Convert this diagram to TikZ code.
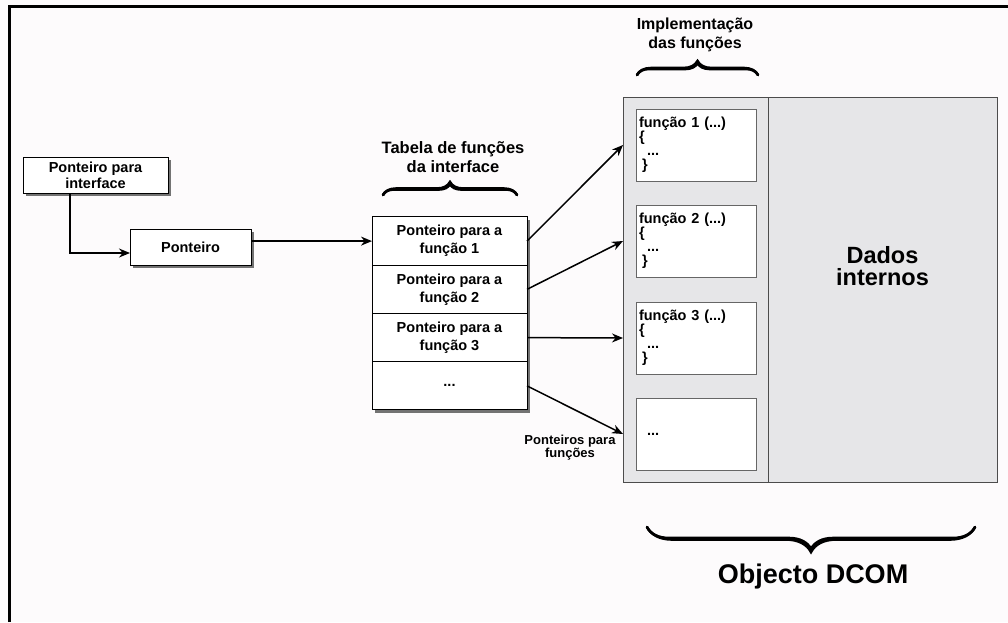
\documentclass[tikz,border=0pt]{standalone}
\usepackage{fontspec}
\setmainfont{Liberation Sans}
\usetikzlibrary{arrows.meta,positioning,shadows,decorations.pathreplacing}
\definecolor{bgpaper}{RGB}{253,251,252}
\definecolor{objgray}{RGB}{230,230,232}

\begin{document}
\begin{tikzpicture}[x=1pt,y=-1pt,font=\bfseries]
  \tikzstyle{box}=[draw,fill=white,line width=1pt,inner sep=0pt,outer sep=0pt,align=center,drop shadow={shadow xshift=3pt,shadow yshift=-3pt,fill=black!55,opacity=1}]
  \tikzstyle{row}=[box,minimum width=155pt,minimum height=48.25pt,font=\bfseries\fontsize{14.5}{18}\selectfont]
  \tikzstyle{func}=[draw=black!60,fill=white,line width=0.8pt,minimum width=120pt,minimum height=72pt,text width=114pt,inner sep=3pt,align=left,font=\bfseries\fontsize{14.5}{14}\selectfont]
  \tikzstyle{part}=[draw=black!70,fill=objgray,line width=1pt,minimum height=385pt,inner sep=0pt,outer sep=0pt]
  \tikzstyle{title}=[align=center,font=\bfseries\fontsize{16.5}{19}\selectfont]
  \tikzstyle{link}=[-{Stealth[length=11pt,width=9pt]},line width=1.5pt]
  \tikzstyle{brc}=[decorate,line width=2.6pt,line cap=round]
  \useasboundingbox (0,0) rectangle (1008,622);
  \fill[bgpaper] (0,0) rectangle (1008,622);
  \draw[line width=3pt] (9,622) -- (9,6) -- (1008,6);

  \node[box,minimum width=145pt,minimum height=36pt,font=\bfseries\fontsize{14.5}{16}\selectfont] (ptrif) at (95.5,175) {Ponteiro para\\interface};
  \node[box,minimum width=121pt,minimum height=36pt,font=\bfseries\fontsize{14.5}{16}\selectfont] (ptr) at (190.5,247) {Ponteiro};

  \node[title] (tabtitle) at (453,157.5) {Tabela de funções\\da interface};
  \node[row] (row1) at (449.5,241.1) {Ponteiro para a\\função 1};
  \node[row,below=0pt of row1] (row2) {Ponteiro para a\\função 2};
  \node[row,below=0pt of row2] (row3) {Ponteiro para a\\função 3};
  \node[row,below=0pt of row3] (row4) {...};

  \node[part,minimum width=145pt] (impl) at (695.5,289.5) {};
  \node[part,minimum width=229pt,right=0pt of impl] (dados) {};
  \node[align=center,font=\bfseries\fontsize{23.5}{22}\selectfont] (dadostxt) at (882.5,266) {Dados\\internos};

  \node[func] (func1) at (696,145) {função 1 (...)\\\{\\\hspace*{8pt}...\\\hspace*{3pt}\}};
  \node[func] (func2) at (696,241) {função 2 (...)\\\{\\\hspace*{8pt}...\\\hspace*{3pt}\}};
  \node[func] (func3) at (696,338) {função 3 (...)\\\{\\\hspace*{8pt}...\\\hspace*{3pt}\}};
  \node[func] (func4) at (696,434) {\hspace*{8pt}...};

  \node[title,font=\bfseries\fontsize{16}{19}\selectfont] (impltitle) at (695,35) {Implementação\\das funções};
  \node[align=center,font=\bfseries\fontsize{13}{13}\selectfont] (ptrslabel) at (570,448) {Ponteiros para\\funções};
  \node[font=\bfseries\fontsize{27}{30}\selectfont] (dcom) at (813,577) {Objecto DCOM};

  \draw[brc,decoration={brace,amplitude=11pt}] (383,195) -- (517,195);
  \draw[brc,decoration={brace,amplitude=13pt}] (383,195) -- (517,195);
  \draw[brc,decoration={brace,amplitude=12pt}] (637,75) -- (758,75);
  \draw[brc,decoration={brace,amplitude=14pt}] (637,75) -- (758,75);
  \draw[brc,decoration={brace,amplitude=22pt}] (975,527) -- (647,527);
  \draw[brc,decoration={brace,amplitude=25pt}] (975,527) -- (647,527);

  \draw[link] ([xshift=-25.5pt]ptrif.south) |- ([yshift=-6pt]ptr.west);
  \draw[link] (ptr.east |- row1.west) -- (row1.west);
  \draw[link] (row1.east) -- (impl.west |- func1.west);
  \draw[link] (row2.east) -- (impl.west |- func2.west);
  \draw[link] (row3.east) -- (impl.west |- func3.west);
  \draw[link] (row4.east) -- (impl.west |- func4.west);
\end{tikzpicture}
\end{document}
